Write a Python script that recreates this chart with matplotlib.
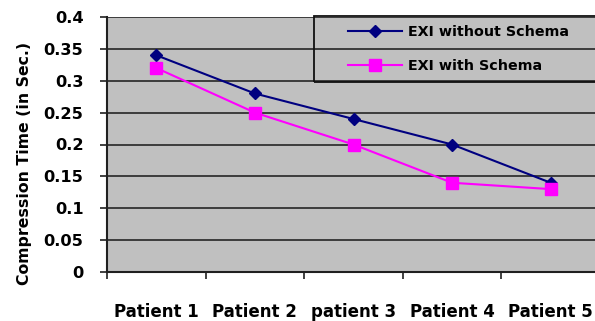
import matplotlib
matplotlib.use("Agg")
import matplotlib.pyplot as plt
from matplotlib.patches import Rectangle
import numpy as np

categories = ["Patient 1", "Patient 2", "patient 3", "Patient 4", "Patient 5"]
without_schema = [0.34, 0.28, 0.24, 0.20, 0.14]
with_schema = [0.32, 0.25, 0.20, 0.14, 0.13]
yticks = [0, 0.05, 0.1, 0.15, 0.2, 0.25, 0.3, 0.35, 0.4]
ytick_labels = ["0", "0.05", "0.1", "0.15", "0.2", "0.25", "0.3", "0.35", "0.4"]

plt.rcParams['font.family'] = ['DejaVu Sans']
plt.rcParams['font.weight'] = 'bold'

W, H = 595, 321
fig = plt.figure(figsize=(W/100, H/100), dpi=100)
left, right, top, bottom = 107, 600, 17, 272
ax = fig.add_axes([left/W, 1 - bottom/H, (right-left)/W, (bottom-top)/H])
ax.set_facecolor("#C0C0C0")

x = np.arange(len(categories))
ax.plot(x, without_schema, color="#000080", marker="D", markersize=6, lw=1.5,
        label="EXI without Schema", clip_on=False)
ax.plot(x, with_schema, color="#FF00FF", marker="s", markersize=8.5, lw=1.5,
        label="EXI with Schema", clip_on=False)

ax.set_xlim(-0.5, len(categories) - 0.5)
ax.set_ylim(0, 0.4)
ax.set_yticks(yticks)
ax.set_yticklabels(ytick_labels, fontsize=11.7, fontweight='bold')
ax.set_xticks(np.arange(-0.5, len(categories), 1.0))
ax.set_xticklabels([])
ax.set_xticks(x, minor=True)
ax.set_xticklabels(categories, minor=True, fontsize=12, fontweight='bold')
ax.tick_params(axis='x', which='minor', length=0, pad=22)
ax.tick_params(axis='x', which='major', length=5, width=1.2, direction='out',
               color='#202020')
ax.tick_params(axis='y', length=5, width=1.2, direction='out', pad=12,
               color='#202020')
ax.grid(axis='y', color='#262626', lw=1.2)
ax.set_axisbelow(True)
for s in ['top', 'right']:
    ax.spines[s].set_visible(False)
ax.spines['left'].set_linewidth(1.5)
ax.spines['bottom'].set_linewidth(1.5)
ax.spines['left'].set_color('#202020')
ax.spines['bottom'].set_color('#202020')
ax.set_ylabel("Compression Time (in Sec.)", fontsize=11.3, fontweight='bold')
ax.yaxis.set_label_coords(-0.152, 0.424)

def fx(px):
    return (px - left) / (right - left)

def fy(py):
    return (bottom - py) / (bottom - top)

ax.add_patch(Rectangle((fx(314), fy(82)), fx(610) - fx(314), fy(16) - fy(82),
                       transform=ax.transAxes, facecolor='none',
                       edgecolor='#101010', lw=1.3, clip_on=False, zorder=5))

leg = ax.legend(loc='center left', bbox_to_anchor=(fx(348), fy(49)),
                frameon=False, fontsize=10.3, handlelength=3.8,
                handletextpad=0.4, labelspacing=1.4, borderpad=0,
                borderaxespad=0)
for t in leg.get_texts():
    t.set_fontweight('bold')

fig.savefig("out.png", dpi=100)
